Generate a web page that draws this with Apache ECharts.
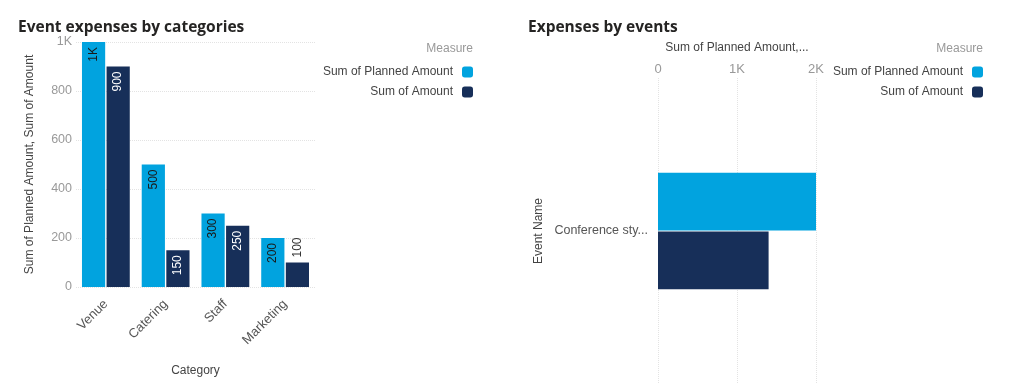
<!DOCTYPE html>
<html>
<head>
<meta charset="utf-8">
<script src="https://cdn.jsdelivr.net/npm/echarts@6/dist/echarts.min.js"></script>
<style>
html,body{margin:0;padding:0;background:#fff;}
#chart{width:1024px;height:388px;}
</style>
</head>
<body>
<div id="chart"></div>
<script>
// ---- data ----
const categories = ['Venue', 'Catering', 'Staff', 'Marketing'];
const plannedByCategory = [1000, 500, 300, 200];
const amountByCategory = [900, 150, 250, 100];
const events = ['Conference sty...'];
const plannedByEvent = [2000];
const amountByEvent = [1400];
const seriesNames = ['Sum of Planned Amount', 'Sum of Amount'];

const C_PLAN = '#01A3DF';
const C_AMT = '#172F59';
const FONT = 'Liberation Sans, Arial, sans-serif';
const fmtK = v => (v >= 1000 ? (v / 1000) + 'K' : String(v));

function barData(values, textColor) {
  return values.map(v => {
    if (v < 120) {
      return { value: v, label: { position: 'top', align: 'left', color: '#333' } };
    }
    return { value: v, label: { color: textColor } };
  });
}

const labelCfg = {
  show: true, position: 'insideTop', rotate: 90, align: 'right', verticalAlign: 'middle',
  distance: 5, fontFamily: FONT, fontSize: 12,
  formatter: p => fmtK(p.value)
};

const legendBase = { align: 'right', icon: 'roundRect', itemWidth: 11, itemHeight: 11, padding: 0,
  textStyle: { fontFamily: FONT, fontSize: 12, color: '#444', padding: [0, 4, 0, 0] } };

const chart = echarts.init(document.getElementById('chart'), null, { renderer: 'canvas' });
chart.setOption({
  animation: false,
  textStyle: { fontFamily: FONT },
  title: [
    { text: 'Event expenses by categories', left: 18, top: 20, padding: 0,
      textStyle: { fontFamily: 'Open Sans, sans-serif', fontWeight: 'bold', fontSize: 15.5, color: '#252423' } },
    { text: 'Expenses by events', left: 528, top: 20, padding: 0,
      textStyle: { fontFamily: 'Open Sans, sans-serif', fontWeight: 'bold', fontSize: 15.5, color: '#252423' } },
    { text: 'Measure', right: 551, top: 43, padding: 0, textStyle: { fontFamily: FONT, fontWeight: 'normal', fontSize: 12, color: '#999' } },
    { text: 'Measure', right: 41, top: 43, padding: 0, textStyle: { fontFamily: FONT, fontWeight: 'normal', fontSize: 12, color: '#999' } }
  ],
  legend: [
    Object.assign({ data: [seriesNames[0]], right: 551, top: 66 }, legendBase),
    Object.assign({ data: [seriesNames[1]], right: 551, top: 86 }, legendBase),
    Object.assign({ data: [seriesNames[0]], right: 41, top: 66 }, legendBase),
    Object.assign({ data: [seriesNames[1]], right: 41, top: 86 }, legendBase)
  ],
  grid: [
    { left: 76, top: 42, width: 239, height: 245 },
    { left: 658, top: 78, width: 158, height: 306 }
  ],
  xAxis: [
    { gridIndex: 0, type: 'category', data: categories,
      axisLine: { show: false }, axisTick: { show: false },
      axisLabel: { rotate: 45, margin: 15, color: '#555', fontSize: 13, fontFamily: FONT },
      name: 'Category', nameLocation: 'middle', nameGap: 78,
      nameTextStyle: { color: '#444', fontSize: 12, fontFamily: FONT } },
    { gridIndex: 1, type: 'value', position: 'top', min: 0, max: 2000, interval: 1000,
      axisLine: { show: false }, axisTick: { show: false },
      axisLabel: { formatter: fmtK, color: '#999', fontSize: 13, fontFamily: FONT, margin: 2 },
      splitLine: { lineStyle: { color: '#e3e3e3', type: 'dotted' } },
      name: 'Sum of Planned Amount,...', nameLocation: 'middle', nameGap: 24,
      nameTextStyle: { color: '#444', fontSize: 12, fontFamily: FONT } }
  ],
  yAxis: [
    { gridIndex: 0, type: 'value', min: 0, max: 1000, interval: 200,
      axisLine: { show: false }, axisTick: { show: false },
      axisLabel: { formatter: fmtK, color: '#999', fontSize: 12.5, fontFamily: FONT, margin: 4 },
      splitLine: { lineStyle: { color: '#e3e3e3', type: 'dotted' } },
      name: 'Sum of Planned Amount, Sum of Amount', nameLocation: 'middle', nameGap: 40,
      nameTextStyle: { color: '#444', fontSize: 12, fontFamily: FONT } },
    { gridIndex: 1, type: 'category', data: events, inverse: true,
      axisLine: { show: false }, axisTick: { show: false },
      axisLabel: { color: '#555', fontSize: 12.5, fontFamily: FONT, margin: 10 },
      name: 'Event Name', nameLocation: 'middle', nameGap: 113,
      nameTextStyle: { color: '#444', fontSize: 12, fontFamily: FONT } }
  ],
  series: [
    { name: seriesNames[0], type: 'bar', xAxisIndex: 0, yAxisIndex: 0,
      data: barData(plannedByCategory, '#1a1a1a'), itemStyle: { color: C_PLAN },
      barCategoryGap: '20%', barGap: '6%', label: labelCfg },
    { name: seriesNames[1], type: 'bar', xAxisIndex: 0, yAxisIndex: 0,
      data: barData(amountByCategory, '#ffffff'), itemStyle: { color: C_AMT },
      barCategoryGap: '20%', barGap: '6%', label: labelCfg },
    { name: seriesNames[0], type: 'bar', xAxisIndex: 1, yAxisIndex: 1,
      data: plannedByEvent, itemStyle: { color: C_PLAN },
      barCategoryGap: '62%', barGap: '2%' },
    { name: seriesNames[1], type: 'bar', xAxisIndex: 1, yAxisIndex: 1,
      data: amountByEvent, itemStyle: { color: C_AMT },
      barCategoryGap: '62%', barGap: '2%' }
  ]
});
</script>
</body>
</html>
